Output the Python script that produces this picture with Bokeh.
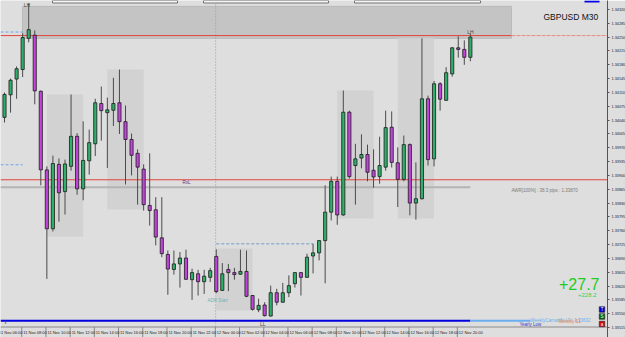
from bokeh.plotting import figure
from bokeh.models import Range1d, FixedTicker, Label
from bokeh.embed import file_html
from bokeh.resources import INLINE
from bokeh.core.properties import value

# ---------------- data ----------------
symbol = "GBPUSD M30"
opens = [1.34047, 1.34104, 1.34144, 1.34168, 1.34247, 1.34255, 1.34113, 1.33914, 1.33765, 1.33928,
         1.33859, 1.33923, 1.33999, 1.33866, 1.33937, 1.33980, 1.34082, 1.34059, 1.34065, 1.34084,
         1.34036, 1.33991, 1.33956, 1.33916, 1.33824, 1.33813, 1.33742, 1.33700, 1.33662, 1.33676,
         1.33691, 1.33636, 1.33651, 1.33631, 1.33642, 1.33695, 1.33609, 1.33662, 1.33654, 1.33650,
         1.33657, 1.33596, 1.33560, 1.33572, 1.33544, 1.33603, 1.33579, 1.33603, 1.33626, 1.33654,
         1.33642, 1.33696, 1.33704, 1.33735, 1.33807, 1.33885, 1.33800, 1.34060, 1.33925, 1.33944,
         1.33953, 1.33913, 1.33897, 1.33921, 1.34022, 1.33932, 1.33890, 1.33978, 1.33830, 1.33841,
         1.34094, 1.33942, 1.34132, 1.34090, 1.34157, 1.34223, 1.34219, 1.34199]
highs = [1.34110, 1.34145, 1.34176, 1.34260, 1.34336, 1.34267, 1.34115, 1.33923, 1.33950, 1.33943,
         1.33940, 1.34105, 1.34007, 1.34037, 1.34016, 1.34094, 1.34125, 1.34097, 1.34147, 1.34168,
         1.34077, 1.34006, 1.33966, 1.33928, 1.33956, 1.33845, 1.33845, 1.33710, 1.33710, 1.33706,
         1.33712, 1.33664, 1.33661, 1.33661, 1.33666, 1.33713, 1.33678, 1.33676, 1.33666, 1.33712,
         1.33710, 1.33597, 1.33588, 1.33579, 1.33621, 1.33613, 1.33628, 1.33647, 1.33655, 1.33655,
         1.33702, 1.33727, 1.33736, 1.33875, 1.33897, 1.33897, 1.34115, 1.34064, 1.33980, 1.34004,
         1.33978, 1.33966, 1.33998, 1.34064, 1.34062, 1.33971, 1.34001, 1.33981, 1.33933, 1.34247,
         1.34102, 1.34139, 1.34136, 1.34174, 1.34225, 1.34252, 1.34242, 1.34259]
lows = [1.34034, 1.34059, 1.34094, 1.34149, 1.34237, 1.34080, 1.33875, 1.33638, 1.33758, 1.33783,
        1.33801, 1.33912, 1.33851, 1.33837, 1.33902, 1.33949, 1.33988, 1.33919, 1.34025, 1.34005,
        1.33877, 1.33900, 1.33826, 1.33811, 1.33773, 1.33723, 1.33693, 1.33598, 1.33649, 1.33616,
        1.33636, 1.33585, 1.33596, 1.33600, 1.33630, 1.33602, 1.33608, 1.33607, 1.33636, 1.33649,
        1.33592, 1.33558, 1.33554, 1.33543, 1.33543, 1.33571, 1.33578, 1.33592, 1.33616, 1.33596,
        1.33641, 1.33652, 1.33685, 1.33627, 1.33786, 1.33775, 1.33798, 1.33892, 1.33826, 1.33918,
        1.33885, 1.33869, 1.33879, 1.33912, 1.33920, 1.33820, 1.33885, 1.33799, 1.33788, 1.33839,
        1.33925, 1.33923, 1.34064, 1.34090, 1.34150, 1.34198, 1.34180, 1.34189]
closes = [1.34105, 1.34141, 1.34170, 1.34249, 1.34269, 1.34114, 1.33914, 1.33765, 1.33930, 1.33856,
          1.33929, 1.33999, 1.33866, 1.33938, 1.33983, 1.34084, 1.34064, 1.34066, 1.34082, 1.34036,
          1.33991, 1.33951, 1.33921, 1.33826, 1.33811, 1.33744, 1.33702, 1.33663, 1.33676, 1.33691,
          1.33637, 1.33654, 1.33631, 1.33645, 1.33659, 1.33606, 1.33651, 1.33654, 1.33649, 1.33657,
          1.33594, 1.33561, 1.33571, 1.33545, 1.33603, 1.33579, 1.33603, 1.33621, 1.33654, 1.33642,
          1.33693, 1.33704, 1.33735, 1.33807, 1.33885, 1.33800, 1.34060, 1.33897, 1.33942, 1.33953,
          1.33908, 1.33896, 1.33925, 1.34021, 1.33933, 1.33890, 1.33978, 1.33830, 1.33841, 1.34094,
          1.33940, 1.34132, 1.34093, 1.34160, 1.34223, 1.34219, 1.34199, 1.34250]

time_labels = ["11 Nov 06:00", "11 Nov 08:00", "11 Nov 10:00", "11 Nov 12:00", "11 Nov 14:00",
               "11 Nov 16:00", "11 Nov 18:00", "11 Nov 20:00", "11 Nov 22:00", "12 Nov 00:00",
               "12 Nov 02:00", "12 Nov 04:00", "12 Nov 06:00", "12 Nov 08:00", "12 Nov 10:00",
               "12 Nov 12:00", "12 Nov 14:00", "12 Nov 16:00", "12 Nov 18:00", "12 Nov 20:00"]
time_label_bars = [-1, 3, 7, 11, 15, 19, 23, 27, 31, 35, 39, 43, 47, 51, 55, 59, 63, 67, 71, 75]
day_start_bar = 35

price_ticks = [1.33515, 1.33550, 1.33585, 1.33620, 1.33655, 1.33690, 1.33725, 1.33760,
               1.33795, 1.33830, 1.33865, 1.33900, 1.33935, 1.33970, 1.34005, 1.34040,
               1.34075, 1.34110, 1.34145, 1.34180, 1.34215, 1.34250, 1.34285, 1.34320]
bid_price = 1.34250

session_start = [7, 17, 35, 55, 65]
session_end = [13, 23, 41, 61, 71]
session_top = [1.34105, 1.34168, 1.33715, 1.34115, 1.34247]
session_bottom = [1.33745, 1.33814, 1.33558, 1.33791, 1.33791]

zone_top, zone_bottom, zone_line = 1.34328, 1.34247, 1.34254
rxl_level = 1.33889
awr_level = 1.33870
adr_level = 1.33727
yearly_low = 1.33532
left_levels = [1.34263, 1.33927]
lh_bars = [4, 77]
ll_bar = 43

# ---------------- layout helpers (pixel geometry of the window) ----------------
W_FRAME, H_FRAME = 607, 337
PX_BAR = 6.05
X0 = -4 / PX_BAR
X1 = X0 + W_FRAME / PX_BAR
Y_TOP = 1.343428
Y_BOT = Y_TOP - H_FRAME * 0.000025314


def bx(px):
    return X0 + px / PX_BAR


def py(pix):
    return Y_TOP - pix * (Y_TOP - Y_BOT) / H_FRAME


FONT = value("Liberation Sans")
BG = "#dedede"

p = figure(frame_width=W_FRAME, frame_height=H_FRAME, output_backend="svg", toolbar_location=None,
           x_range=Range1d(X0, X1), y_range=Range1d(Y_BOT, Y_TOP),
           x_axis_location=None, y_axis_location="right", min_border=0)
p.background_fill_color = BG
p.border_fill_color = BG
p.outline_line_color = None
p.grid.visible = False

ax = p.yaxis[0]
ax.ticker = FixedTicker(ticks=price_ticks)
ax.major_label_overrides = {t: f"{t:.5f}" for t in price_ticks}
ax.major_label_text_font_size = "3.8px"
ax.major_label_text_font = "Liberation Sans"
ax.major_label_text_color = "#222222"
ax.major_label_standoff = 2
ax.major_tick_in = 0
ax.major_tick_out = 2
ax.minor_tick_line_color = None
ax.axis_line_color = "#555555"
ax.major_tick_line_color = "#555555"

# top zone
p.quad(left=bx(22), right=bx(511), top=zone_top, bottom=zone_bottom,
       fill_color="#c4c4c4", line_color="#bababa", line_width=1)
# session boxes
p.quad(left=session_start, right=session_end, top=session_top, bottom=session_bottom,
       fill_color="#d2d2d2", line_color=None)

# day separator
p.segment(x0=[day_start_bar - 0.1], y0=[py(326)], x1=[day_start_bar - 0.1], y1=[Y_TOP],
          line_color="#9a9a9a", line_dash="1 2", line_width=1)

# horizontal levels
p.segment(x0=[X0], y0=[zone_line], x1=[bx(511)], y1=[zone_line], line_color="#e0443c", line_width=1)
p.segment(x0=[bx(511)], y0=[zone_line], x1=[X1], y1=[zone_line], line_color="#e88a84",
          line_width=1, line_dash="4 1")
p.segment(x0=[X0], y0=[rxl_level], x1=[X1], y1=[rxl_level], line_color="#e0443c", line_width=1)
p.segment(x0=[X0], y0=[awr_level], x1=[77], y1=[awr_level], line_color="#b4b4b4", line_width=2)
p.segment(x0=[day_start_bar, day_start_bar], y0=[adr_level, adr_level], x1=[51, 51],
          y1=[adr_level, adr_level], line_color="#8fb0d0", line_width=1, line_dash="3 2")
p.segment(x0=[X0, X0], y0=left_levels, x1=[3, 3], y1=left_levels,
          line_color="#6aa6e6", line_width=1, line_dash="3 2")
p.segment(x0=[X0], y0=[yearly_low], x1=[77], y1=[yearly_low], line_color="#0000e0", line_width=2)
p.segment(x0=[77], y0=[yearly_low], x1=[bx(530)], y1=[yearly_low], line_color="#6aaef0", line_width=2)

# candles
idx = list(range(len(opens)))
up = [c >= o for o, c in zip(opens, closes)]
p.segment(x0=idx, y0=lows, x1=idx, y1=highs, line_color="#4a4a4a", line_width=1)
for flag, col in ((True, "#2fb06a"), (False, "#c244db")):
    xs = [i for i in idx if up[i] == flag]
    tops = [max(opens[i], closes[i]) for i in xs]
    bots = [min(opens[i], closes[i]) for i in xs]
    p.vbar(x=xs, width=0.52, top=tops, bottom=bots, fill_color=col,
           line_color="#1c1c1c", line_width=0.8)

# time strip
p.quad(left=X0, right=X1, top=py(326.5), bottom=Y_BOT, fill_color=BG, line_color=None)
p.segment(x0=[X0], y0=[py(326.5)], x1=[X1], y1=[py(326.5)], line_color="#8a8a8a", line_width=1)
tick_x = [b - 0.15 for b in time_label_bars]
p.segment(x0=tick_x, y0=[py(326.5)] * len(tick_x), x1=tick_x, y1=[Y_BOT] * len(tick_x),
          line_color="#8a8a8a", line_width=1)
p.text(x=[t + 0.25 for t in tick_x], y=[py(331.8)] * len(tick_x), text=time_labels,
       text_font=FONT, text_font_size="4px", text_color="#222222",
       text_align="left", text_baseline="middle")

# texts
p.text(x=[bx(543)], y=[py(16)], text=[symbol], text_font=FONT, text_font_size="8.5px",
       text_color="#111111", text_align="left", text_baseline="middle")
p.text(x=[lh_bars[0] - 0.3, lh_bars[1]], y=[py(4), py(31)], text=["LH", "LH"], text_font=FONT,
       text_font_size="5px", text_color="#444444", text_align="center", text_baseline="middle")
p.text(x=[ll_bar - 0.3], y=[py(323.5)], text=["LL"], text_font=FONT, text_font_size="5px",
       text_color="#444444", text_align="center", text_baseline="middle")
p.text(x=[bx(182)], y=[py(181.5)], text=["RxL"], text_font=FONT, text_font_size="4.5px",
       text_color="#3a3a8a", text_align="left", text_baseline="middle")
p.text(x=[bx(511)], y=[py(190)], text=["AWR[100%] : 38.3 pips : 1.33870"], text_font=FONT,
       text_font_size="4.5px", text_color="#7a7a7a", text_align="left", text_baseline="middle")
p.text(x=[bx(207)], y=[py(299.5)], text=["ADR Start"], text_font=FONT, text_font_size="4.5px",
       text_color="#6fb3b3", text_align="left", text_baseline="middle")
p.text(x=[bx(599)], y=[py(283)], text=["+27.7"], text_font=FONT, text_font_size="16px",
       text_color="#22cc22", text_align="right", text_baseline="middle")
p.text(x=[bx(596)], y=[py(294)], text=["+228.2"], text_font=FONT, text_font_size="6px",
       text_color="#44cc44", text_align="right", text_baseline="middle")
p.text(x=[bx(530)], y=[py(320)], text=["WeeklyCamarilla L3 : 1.33632"], text_font=FONT,
       text_font_size="4.5px", text_color="#6aaef0", text_align="left", text_baseline="middle")
p.text(x=[bx(558)], y=[py(320.5)], text=["Monthly S1"], text_font=FONT,
       text_font_size="4.5px", text_color="#e8824a", text_align="left", text_baseline="middle")
p.text(x=[bx(519)], y=[py(323.5)], text=["Yearly Low"], text_font=FONT,
       text_font_size="4.5px", text_color="#3535c8", text_align="left", text_baseline="middle")
p.text(x=[bx(5)], y=[py(321)], text=["I"], text_font=FONT, text_font_size="6px",
       text_color="#333333", text_align="center", text_baseline="middle")

# T / S / a buttons
btn_y = [py(309), py(316), py(323.5)]
p.rect(x=[bx(601.5)] * 3, y=btn_y, width=5.5 / PX_BAR, height=(Y_TOP - Y_BOT) * 5.5 / H_FRAME,
       fill_color=["#0000d8", "#006a00", "#d80000"], line_color="#222222", line_width=0.6)
p.text(x=[bx(601.5)] * 3, y=btn_y, text=["T", "S", "a"], text_font=FONT, text_font_size="4.5px",
       text_color="white", text_align="center", text_baseline="middle")

# top strip panels
p.quad(left=[bx(52), bx(203), bx(354)], right=[bx(177), bx(328), bx(480)], top=[Y_TOP] * 3,
       bottom=[py(2.5)] * 3, fill_color="#f4f4f4", line_color="#555555", line_width=0.8)
p.quad(left=[bx(584)], right=[bx(599)], top=[Y_TOP], bottom=[py(2)], fill_color="#0000e8",
       line_color=None)

# current price label on the axis
p.add_layout(Label(x=X1, y=bid_price, x_offset=1, text=f"{bid_price:.5f}", text_font_size="3.8px",
                   text_font="Liberation Sans", text_color="white", text_baseline="middle",
                   background_fill_color="#111111", border_line_color="#ff0000"))

open("out.html", "w").write(file_html(p, INLINE))
